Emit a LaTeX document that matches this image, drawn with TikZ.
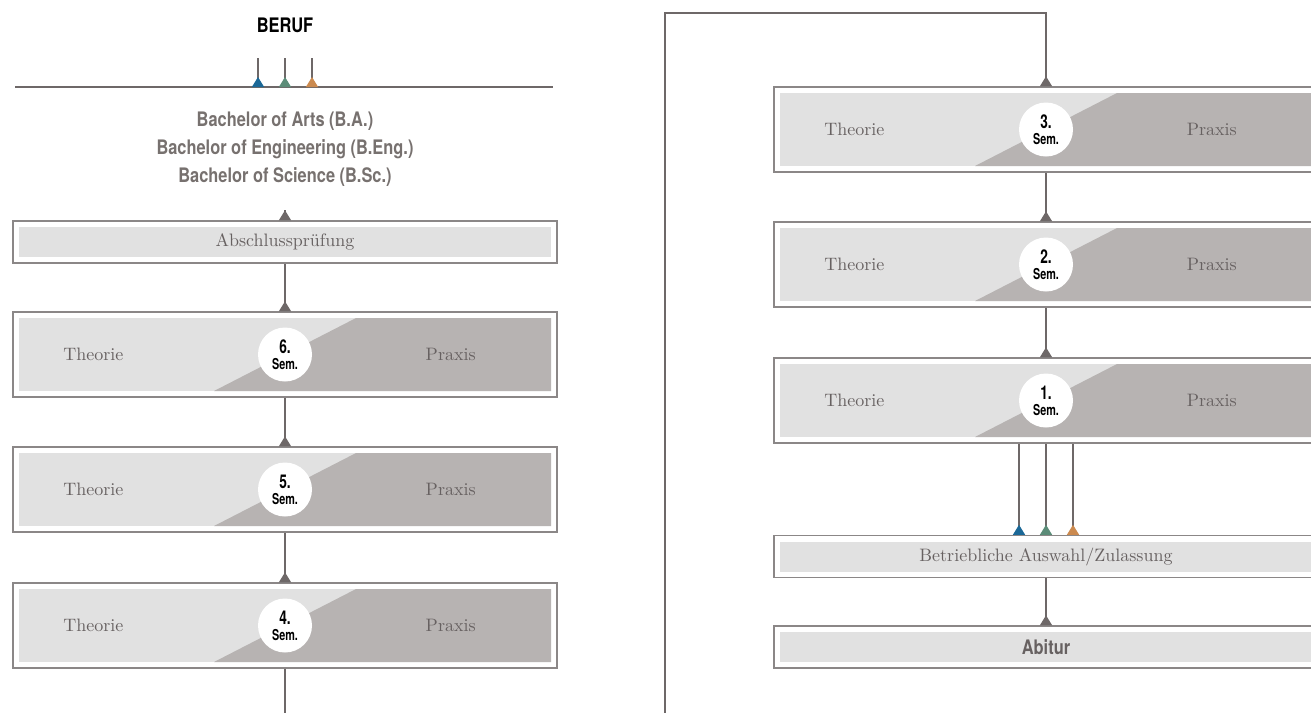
\documentclass[tikz,border=0pt]{standalone}
\usepackage{fontspec}
\newfontfamily\condfont[FakeStretch=0.82]{TeX Gyre Heros}
\newfontfamily\semfont[FakeStretch=0.72]{TeX Gyre Heros}
\newfontfamily\labelfont{lmroman10-regular.otf}
\usetikzlibrary{arrows.meta, positioning}

\definecolor{boxline}{HTML}{8B8787}
\definecolor{linkgray}{HTML}{6E6868}
\definecolor{lightfill}{HTML}{E1E1E1}
\definecolor{darkfill}{HTML}{B7B3B2}
\definecolor{textgray}{HTML}{676161}
\definecolor{degreegray}{HTML}{77716F}
\definecolor{tipblue}{HTML}{1B6897}
\definecolor{tipgreen}{HTML}{5B8C78}
\definecolor{tiporange}{HTML}{CB8A4F}

\tikzset{
  frame/.style={draw=boxline, line width=1.4pt, fill=white, minimum width=544pt, inner sep=0pt},
  plainbox/.style={frame, minimum height=42pt, text=textgray,
    path picture={\fill[lightfill] ([shift={(6pt,-6pt)}]path picture bounding box.north west)
      rectangle ([shift={(-6pt,6pt)}]path picture bounding box.south east);}},
  sembox/.style={frame, minimum height=85pt,
    path picture={\fill[lightfill] ([shift={(6pt,-6pt)}]path picture bounding box.north west)
      rectangle ([shift={(-6pt,6pt)}]path picture bounding box.south east);
      \fill[darkfill] ([shift={(-71pt,6pt)}]path picture bounding box.south)
      -- ([shift={(71pt,-6pt)}]path picture bounding box.north)
      -- ([shift={(-6pt,-6pt)}]path picture bounding box.north east)
      -- ([shift={(-6pt,6pt)}]path picture bounding box.south east) -- cycle;}},
  semdisc/.style={circle, fill=white, minimum size=54pt, inner sep=0pt, align=center, text=black},
  lbl/.style={text=textgray, font=\labelfont\fontsize{18}{22}\selectfont},
  link/.style={draw=linkgray, line width=1.1pt, {Triangle[reversed, length=10pt, width=12pt]}-},
  colorlink/.style={draw=linkgray, line width=1.1pt, {Triangle[reversed, length=10pt, width=12pt, color=#1]}-},
  plainlink/.style={draw=linkgray, line width=1.1pt}
}

\begin{document}
\begin{tikzpicture}[x=1pt, y=-1pt]
\useasboundingbox (0,0) rectangle (1311,713);
\clip (0,0) rectangle (1311,713);

% Top of the left column
\node[font=\condfont\bfseries\fontsize{20}{24}\selectfont] (beruf) at (285,25) {BERUF};
\coordinate (rule west) at (15,87);
\coordinate (rule east) at (553,87);
\coordinate (rule mid) at (285,87);
\draw[draw=linkgray, line width=1.2pt] (rule west) -- (rule east);
\foreach \dx/\c in {-27/tipblue, 0/tipgreen, 27/tiporange} {
    \draw[colorlink=\c] ([xshift=\dx pt]rule mid) -- ++(0,-29);
}
\node[align=center, text=degreegray, font=\condfont\bfseries\fontsize{20}{28}\selectfont] (degrees) at (285,149.5)
    {Bachelor of Arts (B.A.)\\Bachelor of Engineering (B.Eng.)\\Bachelor of Science (B.Sc.)};

% Exam and final semesters
\node[plainbox, font=\labelfont\fontsize{18}{22}\selectfont] (exam) at (285,242) {Abschlussprüfung};

% Semester boxes
\foreach \n/\x/\y in {6/285/354.5, 5/285/489.5, 4/285/625.5, 3/1046/129.5, 2/1046/264.5, 1/1046/400.5} {
    \node[sembox] (sem\n) at (\x,\y) {};
    \node[semdisc] (disc\n) at (sem\n) {{\semfont\bfseries\fontsize{19}{19}\selectfont \n.}\\[4pt]{\semfont\bfseries\fontsize{15}{15}\selectfont Sem.}};
    \node[lbl] (theo\n) at ([xshift=81pt]sem\n.west) {Theorie};
    \node[lbl] (prax\n) at ([xshift=-107pt]sem\n.east) {Praxis};
}

% Entry boxes
\node[plainbox, font=\labelfont\fontsize{18}{22}\selectfont] (select) at (1046,556.5) {Betriebliche Auswahl/Zulassung};
\node[plainbox, font=\condfont\bfseries\fontsize{20}{24}\selectfont] (abitur) at (1046,647) {Abitur};

% Connectors
\draw[link] (exam.north) -- ++(0,-10.5);
\draw[link] (sem6.north) -- (exam.south);
\draw[link] (sem5.north) -- (sem6.south);
\draw[link] (sem4.north) -- (sem5.south);
\coordinate (cut left) at (285,713);
\draw[plainlink] (sem4.south) -- (cut left);

\coordinate (cut right) at (665,713);
\coordinate (top bend) at (1046,13);
\draw[link] (sem3.north) -- (top bend) -| (cut right);
\draw[link] (sem2.north) -- (sem3.south);
\draw[link] (sem1.north) -- (sem2.south);
\foreach \dx/\c in {-27/tipblue, 0/tipgreen, 27/tiporange} {
    \draw[colorlink=\c] ([xshift=\dx pt]select.north) -- ([xshift=\dx pt]sem1.south);
}
\draw[link] (abitur.north) -- (select.south);

\end{tikzpicture}
\end{document}
